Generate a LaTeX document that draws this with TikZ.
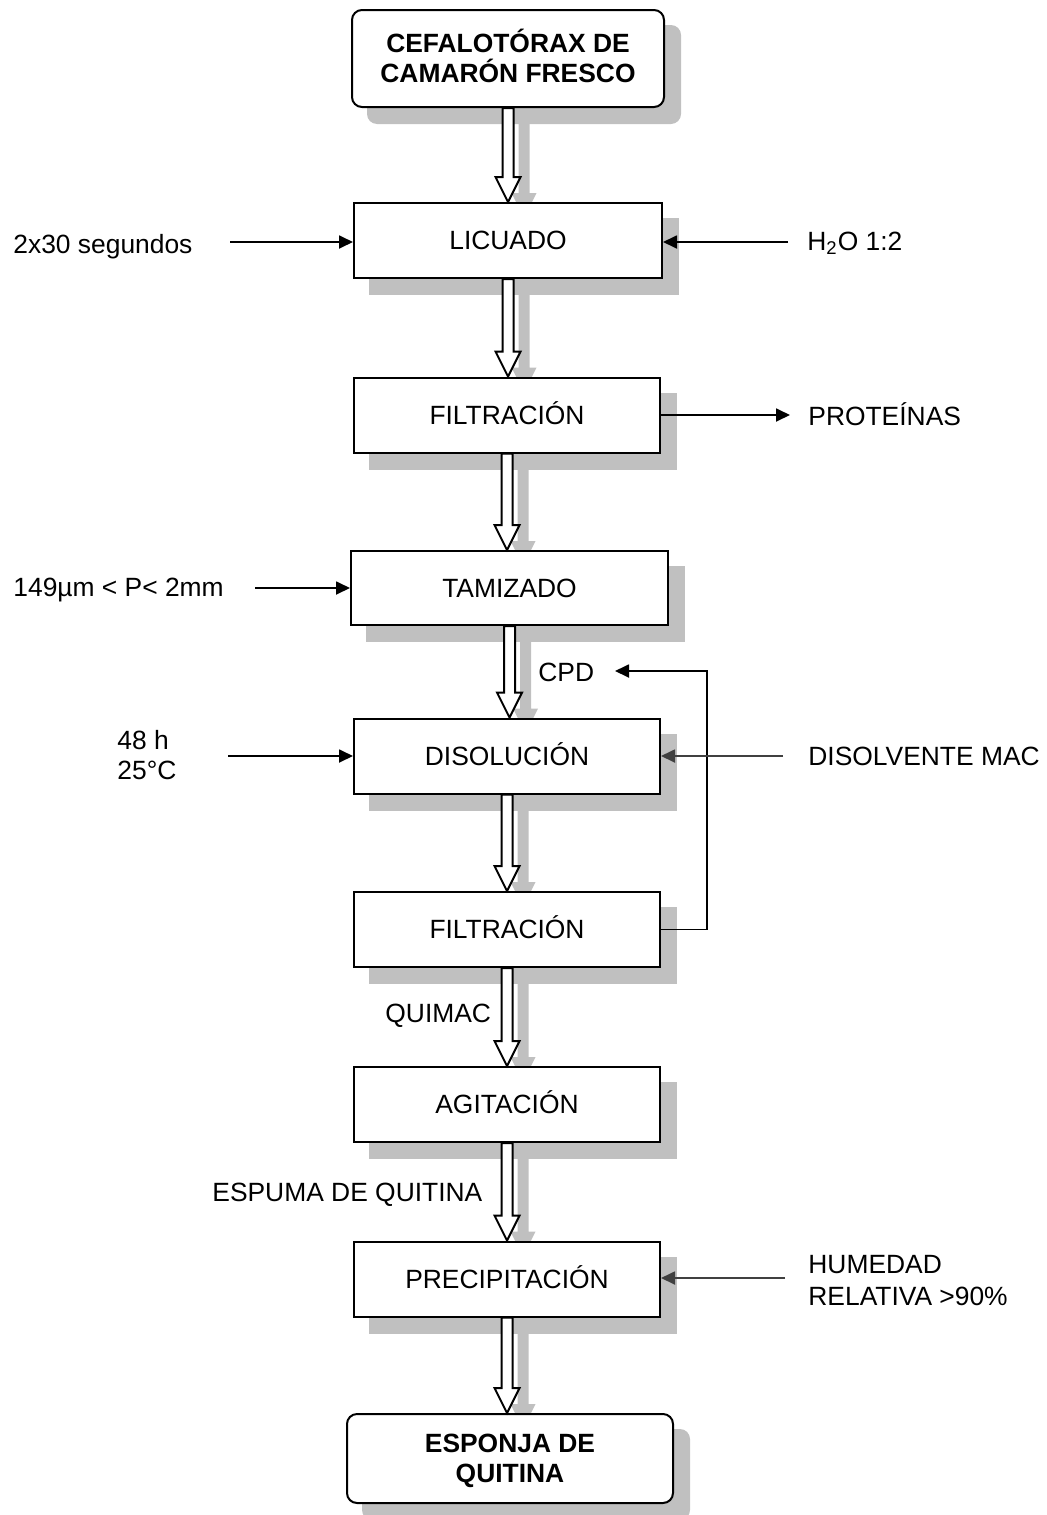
\documentclass[tikz,border=0pt]{standalone}
\usepackage{fontspec}
\setmainfont{Liberation Sans}
\usetikzlibrary{arrows.meta,calc}
\pgfdeclarelayer{bg}
\pgfsetlayers{bg,main}
\definecolor{shadowgray}{RGB}{192,192,192}
\definecolor{darkarr}{RGB}{64,64,64}
\newcommand\hollowarr[4]{%
  \path ($(#2.south)+#4$) coordinate (hs) ($(#2.south |- #3.north)+#4$) coordinate (he);
  \path[#1] ($(hs)+(-5.5,0)$) -- ($(he)+(-5.5,-25)$) -- ($(he)+(-12.5,-25)$) -- (he)
    -- ($(he)+(12.5,-25)$) -- ($(he)+(5.5,-25)$) -- ($(hs)+(5.5,0)$) -- cycle;
}
\begin{document}
\begin{tikzpicture}[x=0.5pt,y=-0.5pt,
  proc/.style={draw, line width=1pt, fill=white, minimum width=153pt, minimum height=37.5pt,
    inner sep=0pt, text height=9.45pt, text depth=0pt, font=\fontsize{13.2}{15}\selectfont},
  term/.style={draw, line width=1pt, fill=white, rounded corners=5pt, inner sep=0pt,
    align=center, text height=24.45pt, text depth=0pt,
    font=\fontsize{13.2}{15}\selectfont\bfseries},
  lbl/.style={inner sep=0pt, anchor=base west, font=\fontsize{13.2}{15}\selectfont},
  sidearr/.style={line width=0.9pt, -{Triangle[length=7pt,width=6.5pt]}},
  harr/.style={draw, line width=1pt, fill=white},
  harrsh/.style={fill=shadowgray},
  boxsh/.style={fill=shadowgray},
]
\useasboundingbox (0,0) rectangle (1047,1515);

% boxes
\node[term, minimum width=156pt, minimum height=48.5pt] (top) at (508,58.5) {CEFALOTÓRAX DE\\CAMARÓN FRESCO};
\node[proc, minimum width=154pt] (lic) at (508,240.5) {LICUADO};
\node[proc] (fil1) at (507,415) {FILTRACIÓN};
\node[proc, minimum width=158.5pt, minimum height=37pt] (tam) at (509.5,588) {TAMIZADO};
\node[proc] (dis) at (507,756) {DISOLUCIÓN};
\node[proc] (fil2) at (507,929.5) {FILTRACIÓN};
\node[proc] (agi) at (507,1104.5) {AGITACIÓN};
\node[proc] (pre) at (507,1279) {PRECIPITACIÓN};
\node[term, minimum width=163pt, minimum height=44.5pt] (fin) at (510,1458.5) {ESPONJA DE\\QUITINA};

% shadows
\begin{pgfonlayer}{bg}
  \foreach \n in {lic,fil1,tam,dis,fil2,agi,pre}
    \path[boxsh] ([shift={(16,16)}]\n.south west) rectangle ([shift={(16,16)}]\n.north east);
  \foreach \n in {top,fin}
    \path[boxsh, rounded corners=5pt] ([shift={(16,16)}]\n.south west) rectangle ([shift={(16,16)}]\n.north east);
  \hollowarr{harrsh}{top}{lic}{(16,16)}
  \hollowarr{harrsh}{lic}{fil1}{(16,16)}
  \hollowarr{harrsh}{fil1}{tam}{(16,16)}
  \hollowarr{harrsh}{tam}{dis}{(16,16)}
  \hollowarr{harrsh}{dis}{fil2}{(16,16)}
  \hollowarr{harrsh}{fil2}{agi}{(16,16)}
  \hollowarr{harrsh}{agi}{pre}{(16,16)}
  \hollowarr{harrsh}{pre}{fin}{(16,16)}
\end{pgfonlayer}

% hollow flow arrows
\hollowarr{harr}{top}{lic}{(0,0)}
\hollowarr{harr}{lic}{fil1}{(0,0)}
\hollowarr{harr}{fil1}{tam}{(0,0)}
\hollowarr{harr}{tam}{dis}{(0,0)}
\hollowarr{harr}{dis}{fil2}{(0,0)}
\hollowarr{harr}{fil2}{agi}{(0,0)}
\hollowarr{harr}{agi}{pre}{(0,0)}
\hollowarr{harr}{pre}{fin}{(0,0)}

% side labels and arrows
\node[lbl] (l1) at (13,253) {2x30 segundos};
\coordinate (s1) at (230,242);
\draw[sidearr] (s1) -- (s1 -| lic.west);

\node[lbl] (l2) at (807,250) {H\textsubscript{2}O 1:2};
\coordinate (s2) at (788,242);
\draw[sidearr] (s2) -- (s2 -| lic.east);

\node[lbl] (l3) at (808,425) {PROTEÍNAS};
\coordinate (s3) at (790,415);
\draw[sidearr] (fil1.east) -- (s3);

\node[lbl] (l4) at (13,596) {149µm < P< 2mm};
\coordinate (s4) at (255,588);
\draw[sidearr] (s4) -- (s4 -| tam.west);

\node[lbl] (cpd) at (538,681) {CPD};
\coordinate (fbc) at (707,671);
\coordinate (cpdtip) at (615,671);
\draw[sidearr] (fil2.east) -| (fbc) -- (cpdtip);

\node[lbl] (l5a) at (117,749) {48 h};
\node[lbl] (l5b) at (117,779) {25°C};
\coordinate (s5) at (228,756);
\draw[sidearr] (s5) -- (s5 -| dis.west);

\node[lbl] (l6) at (808,765) {DISOLVENTE MAC};
\coordinate (s6) at (783,756);
\draw[sidearr, darkarr] (s6) -- (s6 -| dis.east);

\node[lbl] (l7) at (385,1022) {QUIMAC};
\node[lbl] (l8) at (212,1201) {ESPUMA DE QUITINA};

\node[lbl] (l9a) at (808,1273) {HUMEDAD};
\node[lbl] (l9b) at (808,1305) {RELATIVA >90\%};
\coordinate (s7) at (785,1278);
\draw[sidearr, darkarr] (s7) -- (s7 -| pre.east);
\end{tikzpicture}
\end{document}
